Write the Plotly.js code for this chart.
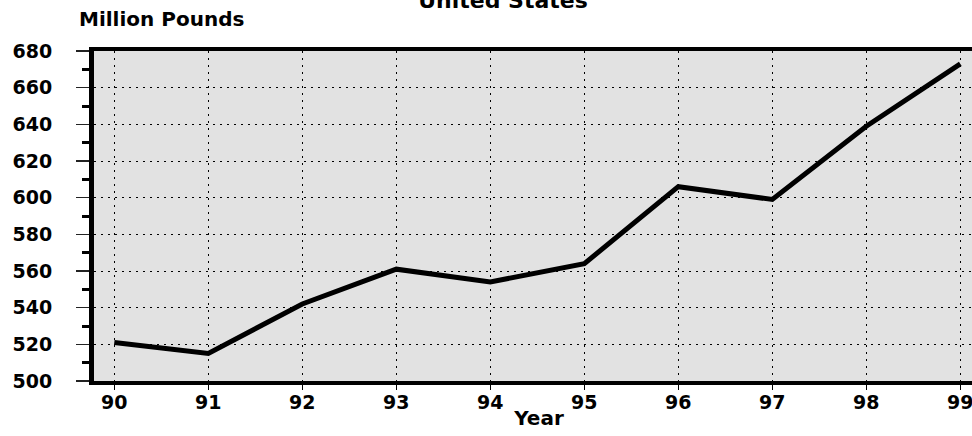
<!DOCTYPE html>
<html>
<head>
<meta charset="utf-8">
<script src="https://cdn.plot.ly/plotly-3.0.1.min.js"></script>
<style>
html,body{margin:0;padding:0;overflow:hidden;background:#fff;}
#chart{width:1000px;height:436px;}
</style>
</head>
<body>
<div id="chart"></div>
<script>
const years = [90, 91, 92, 93, 94, 95, 96, 97, 98, 99];
const millionPounds = [521, 515, 542, 561, 554, 564, 606, 599, 639, 673];
const chartTitle = "United States";
const yUnitLabel = "Million Pounds";
const xLabel = "Year";

const FONT = "DejaVu Sans, Arial, sans-serif";

const trace = {
  x: years,
  y: millionPounds,
  type: "scatter",
  mode: "lines",
  line: {color: "#000", width: 5},
  hoverinfo: "x+y"
};

const layout = {
  width: 1000,
  height: 436,
  margin: {l: 94, r: 16, t: 51, b: 55, pad: 0},
  paper_bgcolor: "#fff",
  plot_bgcolor: "#e2e2e2",
  showlegend: false,
  title: {
    text: chartTitle,
    font: {family: FONT, size: 22, color: "#000", weight: "bold"},
    x: 0.503, xanchor: "center", xref: "container",
    y: 1.0, yanchor: "middle", yref: "container"
  },
  xaxis: {
    range: [89.784, 99.252],
    tick0: 90, dtick: 1,
    showline: true, linecolor: "#000", linewidth: 4, mirror: true,
    ticks: "outside", ticklen: 5, tickwidth: 1, tickcolor: "#000",
    ticklabelstandoff: -4,
    showgrid: true, gridcolor: "#000", gridwidth: 1, griddash: "2px,5px",
    zeroline: false,
    tickfont: {family: FONT, size: 19, color: "#000", weight: "bold"},
    title: {text: xLabel, standoff: 0,
            font: {family: FONT, size: 20, color: "#000", weight: "bold"}}
  },
  yaxis: {
    range: [500, 680],
    tick0: 500, dtick: 20,
    showline: true, linecolor: "#000", linewidth: 5, mirror: true,
    ticks: "outside", ticklen: 13, tickwidth: 1.5, tickcolor: "#222",
    ticklabelstandoff: 20,
    minor: {dtick: 10, ticks: "outside", ticklen: 7, tickwidth: 3, tickcolor: "#000", showgrid: false},
    showgrid: true, gridcolor: "#000", gridwidth: 1, griddash: "2px,5px",
    zeroline: false,
    tickfont: {family: FONT, size: 19, color: "#000", weight: "bold"}
  },
  annotations: [{
    text: yUnitLabel,
    xref: "paper", yref: "paper",
    x: -17/890, y: 1, xanchor: "left", yanchor: "bottom", yshift: 18,
    showarrow: false,
    font: {family: FONT, size: 20, color: "#000", weight: "bold"}
  }]
};

Plotly.newPlot("chart", [trace], layout, {displayModeBar: false, staticPlot: true});
</script>
</body>
</html>
